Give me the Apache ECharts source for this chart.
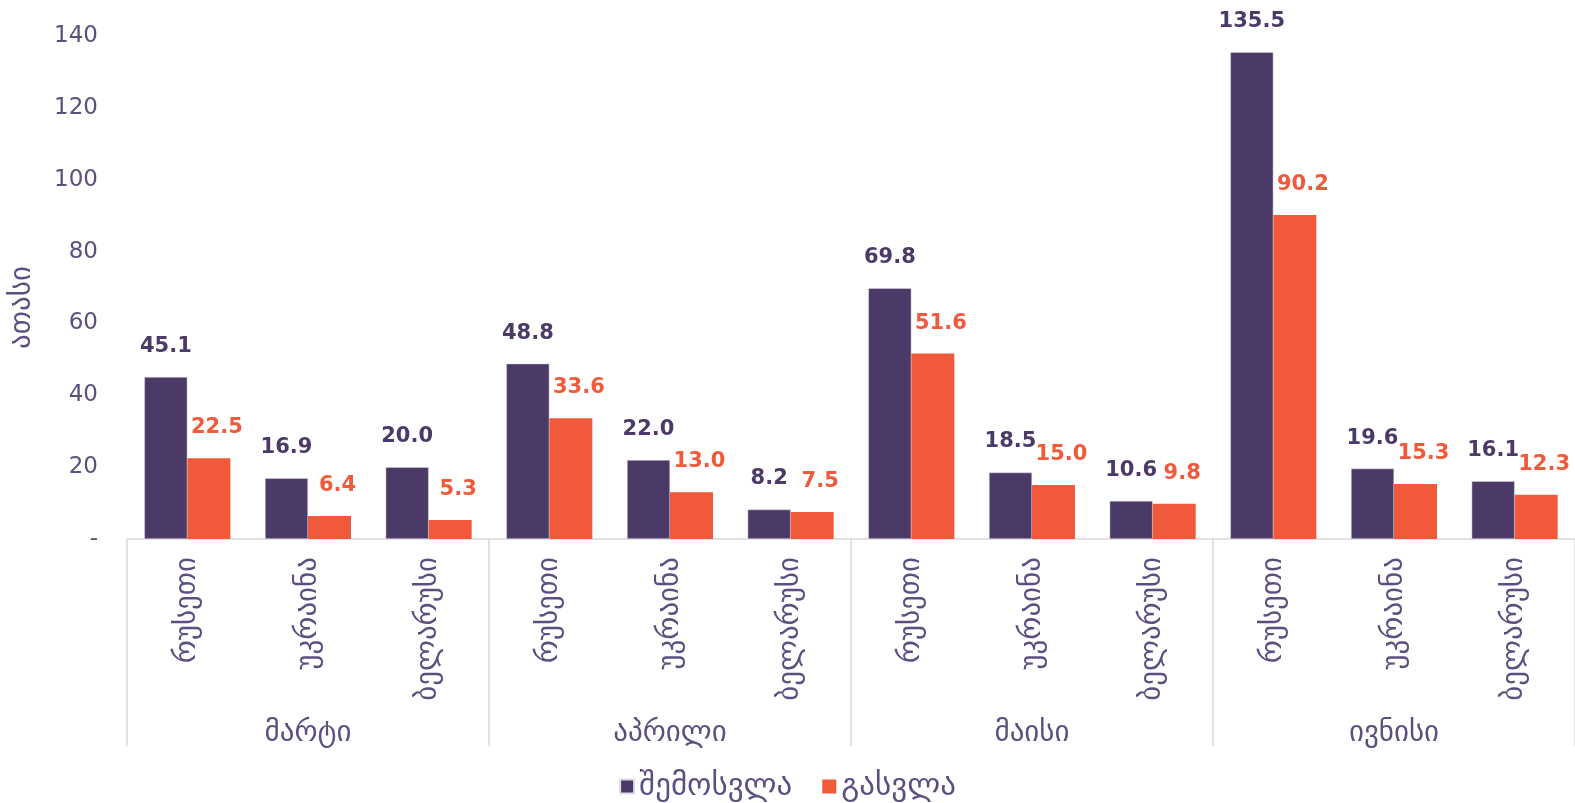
<!DOCTYPE html>
<html>
<head>
<meta charset="utf-8">
<script src="https://cdn.jsdelivr.net/npm/echarts@6/dist/echarts.min.js"></script>
<style>
  html, body { margin: 0; padding: 0; background: #fff; }
  #chart { width: 1575px; height: 803px; }
</style>
</head>
<body>
<div id="chart"></div>
<script>
// კატეგორიები
const months = ["მარტი", "აპრილი", "მაისი", "ივნისი"];
const countries = ["რუსეთი", "უკრაინა", "ბელარუსი"];
// თვეების მიხედვით, ქვეყნების რიგით
const inflow = [45.1, 16.9, 20.0, 48.8, 22.0, 8.2, 69.8, 18.5, 10.6, 135.5, 19.6, 16.1];
const outflow = [22.5, 6.4, 5.3, 33.6, 13.0, 7.5, 51.6, 15.0, 9.8, 90.2, 15.3, 12.3];
const seriesNames = ["შემოსვლა", "გასვლა"];

const purple = "#4b3a68";
const orange = "#f05a3a";
const textColor = "#5d4e80";
const font = "DejaVu Sans";

let xCats = [];
months.forEach(() => {
  countries.forEach((c) => xCats.push(c));
});

let chart = echarts.init(document.getElementById("chart"));
let option = {
  animation: false,
  textStyle: { fontFamily: font },
  grid: { left: 125, right: 0, top: 36, bottom: 264 },
  legend: {
    bottom: 1,
    left: "center",
    padding: [0, 5],
    itemWidth: 14,
    itemHeight: 14,
    itemGap: 30,
    icon: "rect",
    textStyle: { fontSize: 31, color: textColor, fontFamily: font },
    data: seriesNames,
  },
  xAxis: [
    {
      type: "category",
      data: xCats,
      axisLine: { lineStyle: { color: "#d9d9d9", width: 1.5 } },
      axisTick: { show: false },
      axisLabel: {
        interval: 0,
        rotate: 90,
        margin: 18,
        fontSize: 29,
        color: textColor,
        fontFamily: font,
      },
    },
    {
      type: "category",
      position: "bottom",
      data: months,
      axisLine: { show: false },
      axisTick: {
        show: true,
        interval: 0,
        length: 207,
        lineStyle: { color: "#d9d9d9", width: 1.5 },
      },
      axisLabel: {
        interval: 0,
        margin: 180,
        fontSize: 29,
        color: textColor,
        fontFamily: font,
      },
    },
  ],
  yAxis: {
    type: "value",
    min: 0,
    max: 140,
    interval: 20,
    name: "ათასი",
    nameLocation: "middle",
    nameGap: 90,
    nameRotate: 90,
    nameTextStyle: {
      fontSize: 29,
      color: textColor,
      fontFamily: font,
      padding: [0, 40, 0, 0],
    },
    axisLine: { show: false },
    axisTick: { show: false },
    splitLine: { show: false },
    axisLabel: {
      margin: 29,
      fontSize: 23,
      color: textColor,
      fontFamily: font,
      formatter: (v) => (v === 0 ? "-" : v),
    },
  },
  series: [
    {
      name: seriesNames[0],
      type: "bar",
      data: inflow,
      barWidth: 43,
      barGap: "0%",
      itemStyle: { color: purple, borderColor: "#e0dbe8", borderWidth: 0.5 },
      label: {
        show: true,
        position: "top",
        distance: 20,
        fontSize: 21,
        fontWeight: "bold",
        color: purple,
        fontFamily: font,
        formatter: (p) => p.value.toFixed(1),
      },
    },
    {
      name: seriesNames[1],
      type: "bar",
      data: outflow,
      barWidth: 43,
      itemStyle: { color: orange },
      label: {
        show: true,
        position: "top",
        distance: 20,
        offset: [8, 0],
        fontSize: 21,
        fontWeight: "bold",
        color: orange,
        fontFamily: font,
        formatter: (p) => p.value.toFixed(1),
      },
    },
  ],
};
chart.setOption(option);
</script>
</body>
</html>
